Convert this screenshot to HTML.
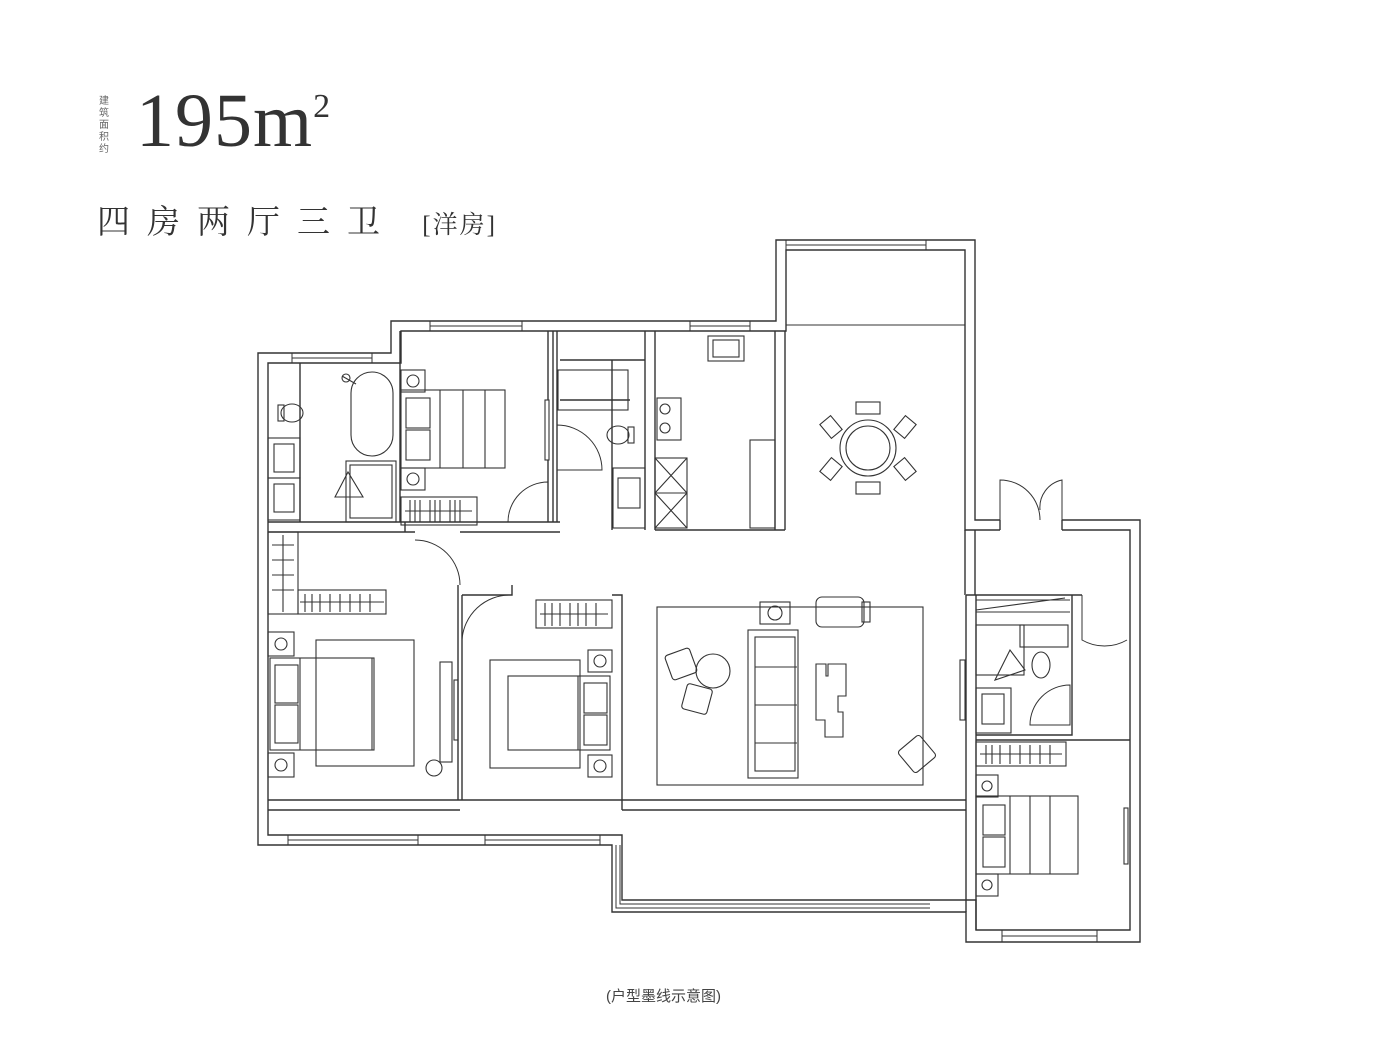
<!DOCTYPE html>
<html><head><meta charset="utf-8"><style>
html,body{margin:0;padding:0;background:#fff;}
.wrap{position:relative;width:1400px;height:1050px;overflow:hidden;}
.t1{position:absolute;left:136px;top:78px;font-family:"Liberation Serif",serif;font-size:76px;color:#333;letter-spacing:1px;}
.t1 sup{font-size:34px;vertical-align:top;position:relative;top:10px;}
.t0{position:absolute;left:99px;top:94px;width:14px;font-family:"Noto Sans CJK SC",sans-serif;font-size:10px;line-height:12px;color:#666;}
.t2{position:absolute;left:97px;top:196px;font-family:"Liberation Serif","Noto Serif CJK SC",serif;font-size:33px;color:#333;letter-spacing:17px;}
.t2 span{font-size:25px;letter-spacing:2px;}
.cap{position:absolute;left:606px;top:985px;font-family:"Liberation Sans","Noto Sans CJK SC",sans-serif;font-size:15px;color:#444;}
svg{position:absolute;left:0;top:0;}
</style></head><body><div class="wrap">
<div class="t0">建筑面积约</div>
<div class="t1">195m<sup>2</sup></div>
<div class="t2">四房两厅三卫 <span>[洋房]</span></div>
<div class="cap">(户型墨线示意图)</div>
<svg width="1400" height="1050" viewBox="0 0 1400 1050" fill="none" stroke="#333" stroke-width="1.4">
<!-- outer walls -->
<path d="M1062,520 H1140 V942 H966 V912 H612 V845 H258 V353 H391 V321 H776 V240 H975 V520 H1000"/>
<path d="M1062,530 H1130 V930 H976 V900 H622 V835 H268 V363 H401 V331 H786 V250 H965 V530 H1000"/>
<line x1="1000" y1="520" x2="1000" y2="530"/><line x1="1062" y1="520" x2="1062" y2="530"/>
<!-- windows -->
<g stroke-width="1">
<rect x="292" y="353" width="80" height="10"/><line x1="292" y1="358" x2="372" y2="358"/>
<rect x="430" y="321" width="92" height="10"/><line x1="430" y1="326" x2="522" y2="326"/>
<rect x="690" y="321" width="60" height="10"/><line x1="690" y1="326" x2="750" y2="326"/>
<rect x="786" y="240" width="140" height="10"/><line x1="786" y1="245" x2="926" y2="245"/>
<rect x="288" y="835" width="130" height="10"/><line x1="288" y1="840" x2="418" y2="840"/>
<rect x="485" y="835" width="115" height="10"/><line x1="485" y1="840" x2="600" y2="840"/>
<rect x="1002" y="930" width="95" height="12"/><line x1="1002" y1="936" x2="1097" y2="936"/>
<path d="M612,845 V912 H930 M616,845 V908 H930 M620,845 V904 H930"/>
<line x1="786" y1="325" x2="965" y2="325"/>
</g>
<!-- interior walls -->
<path d="M268,522 H560 M268,532 H415 M460,532 H560"/>
<path d="M300,363 V522 M400,331 V522 M405,522 V532"/>
<path d="M548,331 V400 M553,331 V522 M548,460 V522"/>
<path d="M557,331 V522 M560,360 H645 M560,400 H630 M645,331 V530 M655,331 V530 M612,360 V530"/>
<path d="M775,331 V530 M785,331 V530 M655,530 H785"/>
<path d="M458,585 V800 M462,595 V800 M462,595 H512 V585 M612,595 H622 V810"/>
<path d="M268,800 H612 M268,810 H460 M612,800 H966 M622,810 H966 M966,595 V912 M976,595 V735"/>
<path d="M966,595 H1072 V735 H976 M1072,595 H1082 M1072,600 V735"/>
<path d="M976,735 V930 M976,740 H1130"/>
<path d="M965,530 V595 M975,530 V595"/>
<!-- doors -->
<g stroke-width="1">
<path d="M508,522 A40,40 0 0 1 548,482 V522"/>
<path d="M557,425 A45,45 0 0 1 602,470 H557 Z"/>
<path d="M415,540 A45,45 0 0 1 460,585"/>
<path d="M462,640 A48,48 0 0 1 510,595"/>
<path d="M1000,520 V480 A40,40 0 0 1 1040,520"/><path d="M1062,520 V480 A28,28 0 0 0 1040,510"/>
<path d="M1082,595 V640 A45,45 0 0 0 1127,640"/>
<path d="M1030,725 A40,40 0 0 1 1070,685 V725 Z"/>
</g>
<!-- furniture -->
<g stroke-width="1.1">
<rect x="351" y="372" width="42" height="84" rx="21"/><path d="M342,376 L356,384"/><circle cx="346" cy="378" r="4"/>
<ellipse cx="292" cy="413" rx="11" ry="9"/><rect x="278" y="405" width="6" height="16"/>
<rect x="268" y="438" width="32" height="40"/><rect x="274" y="444" width="20" height="28"/>
<rect x="268" y="478" width="32" height="42"/><rect x="274" y="484" width="20" height="28"/>
<rect x="346" y="461" width="50" height="61"/><rect x="350" y="465" width="42" height="53"/>
<path d="M335,497 L348,472 L363,497 Z"/>
<rect x="401" y="370" width="24" height="22"/><circle cx="413" cy="381" r="6"/>
<rect x="401" y="468" width="24" height="22"/><circle cx="413" cy="479" r="6"/>
<rect x="401" y="390" width="104" height="78"/><path d="M440,390 V468 M463,390 V468 M485,390 V468"/>
<rect x="406" y="398" width="24" height="30"/><rect x="406" y="430" width="24" height="30"/>
<rect x="401" y="497" width="76" height="28"/><path d="M405,511 H472 M410,500 V522 M415,500 V522 M420,500 V522 M430,500 V522 M435,500 V522 M440,500 V522 M450,500 V522 M455,500 V522 M460,500 V522"/>
<rect x="558" y="370" width="70" height="40"/>
<ellipse cx="618" cy="435" rx="11" ry="9"/><rect x="628" y="427" width="6" height="16"/>
<rect x="613" y="468" width="32" height="60"/><rect x="618" y="478" width="22" height="30"/>
<rect x="708" y="336" width="36" height="25"/><rect x="713" y="340" width="26" height="17"/>
<rect x="657" y="398" width="24" height="42"/><circle cx="665" cy="409" r="5"/><circle cx="665" cy="428" r="5"/>
<rect x="655" y="458" width="32" height="70"/><path d="M655,493 H687 M655,458 L687,493 M687,458 L655,493 M655,493 L687,528 M687,493 L655,528"/>
<rect x="750" y="440" width="25" height="88"/>
<circle cx="868" cy="448" r="28"/><circle cx="868" cy="448" r="22"/>
<rect x="856" y="402" width="24" height="12"/><rect x="856" y="482" width="24" height="12"/>
<rect x="824" y="418" width="14" height="18" transform="rotate(-40 831 427)"/><rect x="898" y="418" width="14" height="18" transform="rotate(40 905 427)"/>
<rect x="824" y="460" width="14" height="18" transform="rotate(40 831 469)"/><rect x="898" y="460" width="14" height="18" transform="rotate(-40 905 469)"/>
<rect x="268" y="532" width="30" height="82"/><path d="M272,545 H294 M272,560 H294 M272,575 H294 M272,590 H294 M283,535 V612"/>
<rect x="298" y="590" width="88" height="24"/><path d="M300,602 H384 M305,594 V612 M312,594 V612 M320,594 V612 M330,594 V612 M340,594 V612 M350,594 V612 M360,594 V612 M370,594 V612"/>
<rect x="316" y="640" width="98" height="126"/>
<rect x="270" y="658" width="104" height="92"/><path d="M300,658 V750 M372,658 V750"/>
<rect x="275" y="665" width="23" height="38"/><rect x="275" y="705" width="23" height="38"/>
<rect x="268" y="632" width="26" height="24"/><circle cx="281" cy="644" r="6"/>
<rect x="268" y="753" width="26" height="24"/><circle cx="281" cy="765" r="6"/>
<circle cx="434" cy="768" r="8"/>
<rect x="440" y="662" width="12" height="100"/><rect x="454" y="680" width="4" height="60"/>
<rect x="536" y="600" width="76" height="28"/><path d="M540,614 H608 M545,603 V626 M552,603 V626 M560,603 V626 M570,603 V626 M578,603 V626 M586,603 V626 M596,603 V626"/>
<rect x="490" y="660" width="90" height="108"/>
<rect x="508" y="676" width="102" height="74"/><path d="M578,676 V750"/>
<rect x="584" y="683" width="23" height="30"/><rect x="584" y="715" width="23" height="30"/>
<rect x="588" y="650" width="24" height="22"/><circle cx="600" cy="661" r="6"/>
<rect x="588" y="755" width="24" height="22"/><circle cx="600" cy="766" r="6"/>
<rect x="657" y="607" width="266" height="178"/>
<rect x="748" y="630" width="50" height="148"/><rect x="755" y="637" width="40" height="134"/><path d="M755,667 H797 M755,705 H797 M755,743 H797"/>
<rect x="760" y="602" width="30" height="22"/><circle cx="775" cy="613" r="7"/>
<rect x="816" y="597" width="48" height="30" rx="6"/><rect x="862" y="602" width="8" height="20"/>
<circle cx="713" cy="671" r="17"/>
<rect x="668" y="651" width="26" height="26" rx="3" transform="rotate(-20 681 664)"/>
<rect x="684" y="686" width="26" height="26" rx="3" transform="rotate(15 697 699)"/>
<path d="M816,664 H826 V676 H828 V664 H846 V696 H838 V712 H843 V737 H825 V720 H816 Z"/>
<rect x="903" y="740" width="28" height="28" rx="3" transform="rotate(-40 917 754)"/>
<path d="M976,600 H1070 M976,612 H1070 M976,610 L1065,598"/>
<rect x="976" y="625" width="48" height="50"/><rect x="1020" y="625" width="48" height="22"/>
<path d="M995,680 L1010,650 L1025,670 Z"/>
<ellipse cx="1041" cy="665" rx="9" ry="13"/>
<rect x="976" y="688" width="35" height="45"/><rect x="982" y="694" width="22" height="30"/>
<rect x="976" y="742" width="90" height="24"/><path d="M980,754 H1062 M986,745 V764 M992,745 V764 M1000,745 V764 M1010,745 V764 M1020,745 V764 M1030,745 V764 M1040,745 V764 M1050,745 V764"/>
<rect x="976" y="775" width="22" height="22"/><circle cx="987" cy="786" r="5"/>
<rect x="976" y="874" width="22" height="22"/><circle cx="987" cy="885" r="5"/>
<rect x="976" y="796" width="102" height="78"/><path d="M1010,796 V874 M1030,796 V874 M1050,796 V874"/>
<rect x="983" y="805" width="22" height="30"/><rect x="983" y="837" width="22" height="30"/>
<rect x="1124" y="808" width="4" height="56"/><rect x="960" y="660" width="5" height="60"/><rect x="545" y="400" width="4" height="60"/>
</g>
</svg>
</div></body></html>
